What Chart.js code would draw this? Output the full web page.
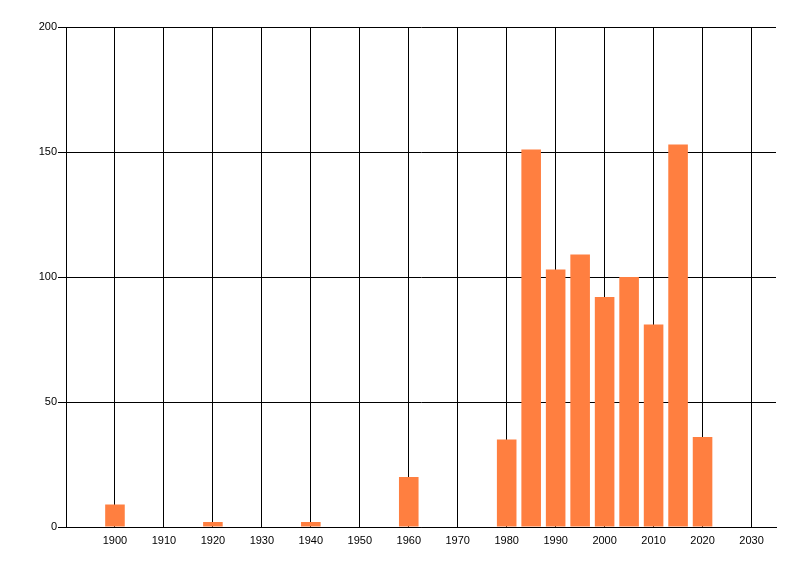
<!DOCTYPE html>
<html>
<head>
<meta charset="utf-8">
<script src="https://cdn.jsdelivr.net/npm/chart.js@4"></script>
<style>
  html, body { margin: 0; padding: 0; background: #fff; }
  #wrap { width: 800px; height: 576px; }
</style>
</head>
<body>
<div id="wrap"><canvas id="chart" width="800" height="576"></canvas></div>
<script>
const years = [1900, 1920, 1940, 1960, 1980, 1985, 1990, 1995, 2000, 2005, 2010, 2015, 2020];
const counts = [9, 2, 2, 20, 35, 151, 103, 109, 92, 100, 81, 153, 36];
const xTicks = [1900, 1910, 1920, 1930, 1940, 1950, 1960, 1970, 1980, 1990, 2000, 2010, 2020, 2030];
const yTicks = [0, 50, 100, 150, 200];

const FONT = { family: '"Liberation Sans", Arial, sans-serif', size: 11 };

const ctx = document.getElementById('chart').getContext('2d');
new Chart(ctx, {
    type: 'bar',
    data: {
        datasets: [{
            data: years.map((y, i) => ({ x: y, y: counts[i] })),
            backgroundColor: '#ff7f40',
            borderWidth: 0,
            barPercentage: 0.8,
            categoryPercentage: 1.0
        }]
    },
    options: {
        responsive: false,
        animation: false,
        layout: { padding: { top: 27, right: 24, left: 0, bottom: 0 } },
        plugins: { legend: { display: false }, tooltip: { enabled: false } },
        scales: {
            x: {
                type: 'linear',
                min: 1890,
                max: 2035,
                offset: false,
                afterBuildTicks: s => { s.ticks = xTicks.map(v => ({ value: v })); },
                afterFit: s => { s.height = 49; },
                grid: { color: '#000', lineWidth: 1, drawTicks: false, offset: false },
                border: { display: true, color: '#000', width: 1 },
                ticks: { color: '#000', font: FONT, padding: 7, maxRotation: 0, autoSkip: false,
                         callback: v => String(v) }
            },
            y: {
                min: 0,
                max: 200,
                afterBuildTicks: s => { s.ticks = yTicks.map(v => ({ value: v })); },
                afterFit: s => { s.width = 66; },
                grid: { color: '#000', lineWidth: 1, tickLength: 8 },
                border: { display: true, color: '#000', width: 1 },
                ticks: { color: '#000', font: FONT, padding: 1 }
            }
        }
    }
});
</script>
</body>
</html>
